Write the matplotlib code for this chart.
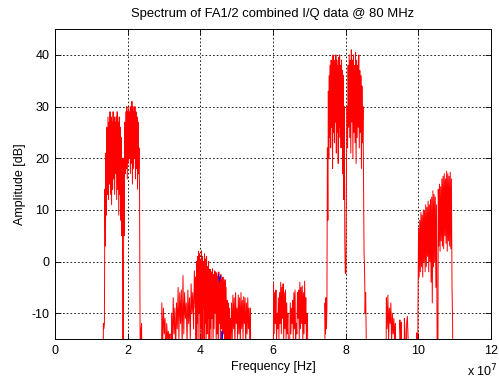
import numpy as np
import matplotlib
matplotlib.use("Agg")
import matplotlib.pyplot as plt
from matplotlib.ticker import FuncFormatter

plt.rcParams["font.family"] = ["Liberation Sans", "DejaVu Sans"]
plt.rcParams["font.size"] = 9
plt.rcParams["axes.unicode_minus"] = False

SCALE = 1e7  # frequency unit used in the lists below (Hz)

# each band: (start, end) in units of 1e7 Hz, then amplitudes in dB
band_a_edges = (1.32, 1.87)
band_a = [-40, -12, -13, -12, 14, 3, 21, 9, 26, 13, 28, 12, 27, 15, 29, 13, 28, 11, 27, 14,
          29, 16, 28, 13, 27, 17, 28, 12, 29, 14, 27, 9, 28, 13, 26, 8, 24, 5, 20, -40]

band_b_edges = (1.88, 2.40)
band_b = [-40, 20, 5, 27, 17, 29, 18, 30, 16, 29, 19, 30, 20, 29, 17, 30, 19, 31, 15, 30,
          18, 29, 20, 30, 16, 29, 18, 28, 14, 27, 17, 22, 13, -12, -40, -13, -12, -40]

low_a_edges = (2.92, 3.86)
low_a = [-40, -8, -16, -9, -14, -11, -20, -12, -15, -13.5, -17, -14, -40, -10, -16, -7, -14,
         -9, -18, -8, -13, -5, -15, -6, -12, -5.5, -17, -2.7, -14, -6, -11, -8, -16, -5.5,
         -12, -7, -15, -4.3, -10, -6, -13, -1.8, -9]

bump_edges = (3.87, 4.27)
bump = [-3, -16, 0, -12, 1, -17, 2, -10, 1.5, -18, 0.5, -13, 2.1, -16, 1, -9, 0, -17, 1.5,
        -12, 0.5, -18, 1, -14, -1, -11, 0, -16, -1.5, -13]

shoulder_edges = (4.28, 4.84)
shoulder = [-1.5, -16, -2, -11, -1.4, -17, -2.5, -13, -1.8, -10, -2, -16, -2.2, -14, -2.8,
            -18, -2, -12, -3, -16, -2.5, -13, -3.5, -17, -3, -14, -4, -18, -3.5, -15, -5,
            -16, -7.5, -18, -8, -15, -9, -17, -11, -16]

tail_edges = (4.86, 5.40)
tail = [-8, -16, -6.5, -13, -7, -17, -6, -12, -9, -15, -6.5, -14, -7, -16, -6, -13, -7.5,
        -15, -6.8, -12, -7, -17, -8, -14, -7, -13, -9, -16, -9, -40]

low_b_edges = (6.00, 6.97)
low_b = [-40, -4.3, -14, -6, -12, -5.5, -16, -10, -13, -7, -15, -6, -12, -4, -14, -5, -11,
         -4.3, -16, -6, -13, -5.5, -15, -8, -14, -10, -17, -40, -16, -8, -14, -9, -12, -7.5,
         -15, -6, -13, -5.5, -16, -12, -14, -6, -11, -5.5, -15, -4, -13, -5, -12, -4.7, -16,
         -6, -14, -3.8, -12, -7, -15, -10, -13, -40]

band_d1_edges = (7.42, 7.99)
band_d1 = [-40, -8, -14, -7, -13, -9, 22, 8, 33, 20, 36, 24, 38, 22, 39, 26, 38.5, 18, 40,
           25, 39, 23, 38, 27, 40, 21, 39, 25, 38, 19, 39.5, 26, 40, 24, 38, 22, 39, 26, 37,
           17, 36, 12, 30, 4, -2.3]

band_d2_edges = (8.01, 8.58)
band_d2 = [-2.3, 20, 30, 22, 38, 26, 40, 24, 39, 21, 41, 27, 39, 20, 40, 25, 38, 23, 40.5,
           19, 39, 24, 38, 26, 40, 22, 37, 25, 36, 18, 34, 23, 30, 17, 1.5, -2, -10, -6,
           -14, -40]

low_c_edges = (9.10, 9.74)
low_c = [-40, -7, -13, -6.5, -15, -9, -12, -8, -16, -10, -14, -11, -16, -12, -40, -40, -40,
         -16, -40, -11.3, -15, -11.8, -40, -40, -40, -11, -14, -40, -12, -10.6, -15, -40]

band_e_edges = (9.94, 10.96)
band_e = [-40, -13.8, -40, -10, 6.5, -3, 8, -2, 9.5, -1, 9, -3, 10, 0, 9.8, -2, 11, -1,
          10.5, 1, 11.7, -2, 11, 0, 12, -4, 12.5, -8, 13.7, -1, 13, 0, 12.5, -5, 11, -14,
          -40, 14, 3, 15, 2, 14.5, 4, 16, 3, 16.5, 2.5, 17, 5, 16, 3.5, 17.5, 2, 17, 4,
          16.5, 3, 17.3, 2.5, 16, -5, -12, -40]

# small second trace (blue) peeking through around 4.6e7
blue_freqs = [4.50, 4.53, 4.56, np.nan, 4.58, 4.60, 4.62]
blue_amps = [-2.5, -3.8, -2.8, np.nan, -40, -13.5, -40]

segments = [
    (band_a_edges, band_a), (band_b_edges, band_b), (low_a_edges, low_a),
    (bump_edges, bump), (shoulder_edges, shoulder), (tail_edges, tail),
    (low_b_edges, low_b), (band_d1_edges, band_d1), (band_d2_edges, band_d2),
    (low_c_edges, low_c), (band_e_edges, band_e),
]

freqs = []
amps = []
for (lo, hi), vals in segments:
    freqs.append(np.linspace(lo, hi, len(vals)))
    amps.append(np.array(vals, dtype=float))
freqs = np.concatenate(freqs) * SCALE
amps = np.concatenate(amps)

fig = plt.figure(figsize=(4.99, 3.78), dpi=100)
ax = fig.add_axes([0.110, 0.103, 0.874, 0.820])

ax.plot(freqs, amps, color="red", linewidth=0.7)
ax.plot(np.array(blue_freqs) * SCALE, blue_amps, color="blue", linewidth=0.7)

ax.set_xlim(0, 12 * SCALE)
ax.set_ylim(-15, 45)
ax.set_xticks(np.arange(0, 13, 2) * SCALE)
ax.set_yticks([-10, 0, 10, 20, 30, 40])
ax.xaxis.set_major_formatter(FuncFormatter(lambda v, p: f"{v / SCALE:g}"))
ax.yaxis.set_major_formatter(FuncFormatter(lambda v, p: f"{v:g}"))
ax.tick_params(direction="in", length=4, width=0.6, top=True, right=True, pad=4)
ax.grid(True, color="black", linestyle=(0, (2, 2.5)), linewidth=0.6)
for s in ax.spines.values():
    s.set_linewidth(0.7)

ax.set_title("Spectrum of FA1/2 combined I/Q data @ 80 MHz", fontsize=9.4, pad=9)
ax.set_xlabel("Frequency [Hz]", labelpad=3)
ax.set_ylabel("Amplitude [dB]")
fig.text(0.998, -0.004, "x 10$^7$", ha="right", va="bottom")

fig.savefig("out.png", dpi=100)
